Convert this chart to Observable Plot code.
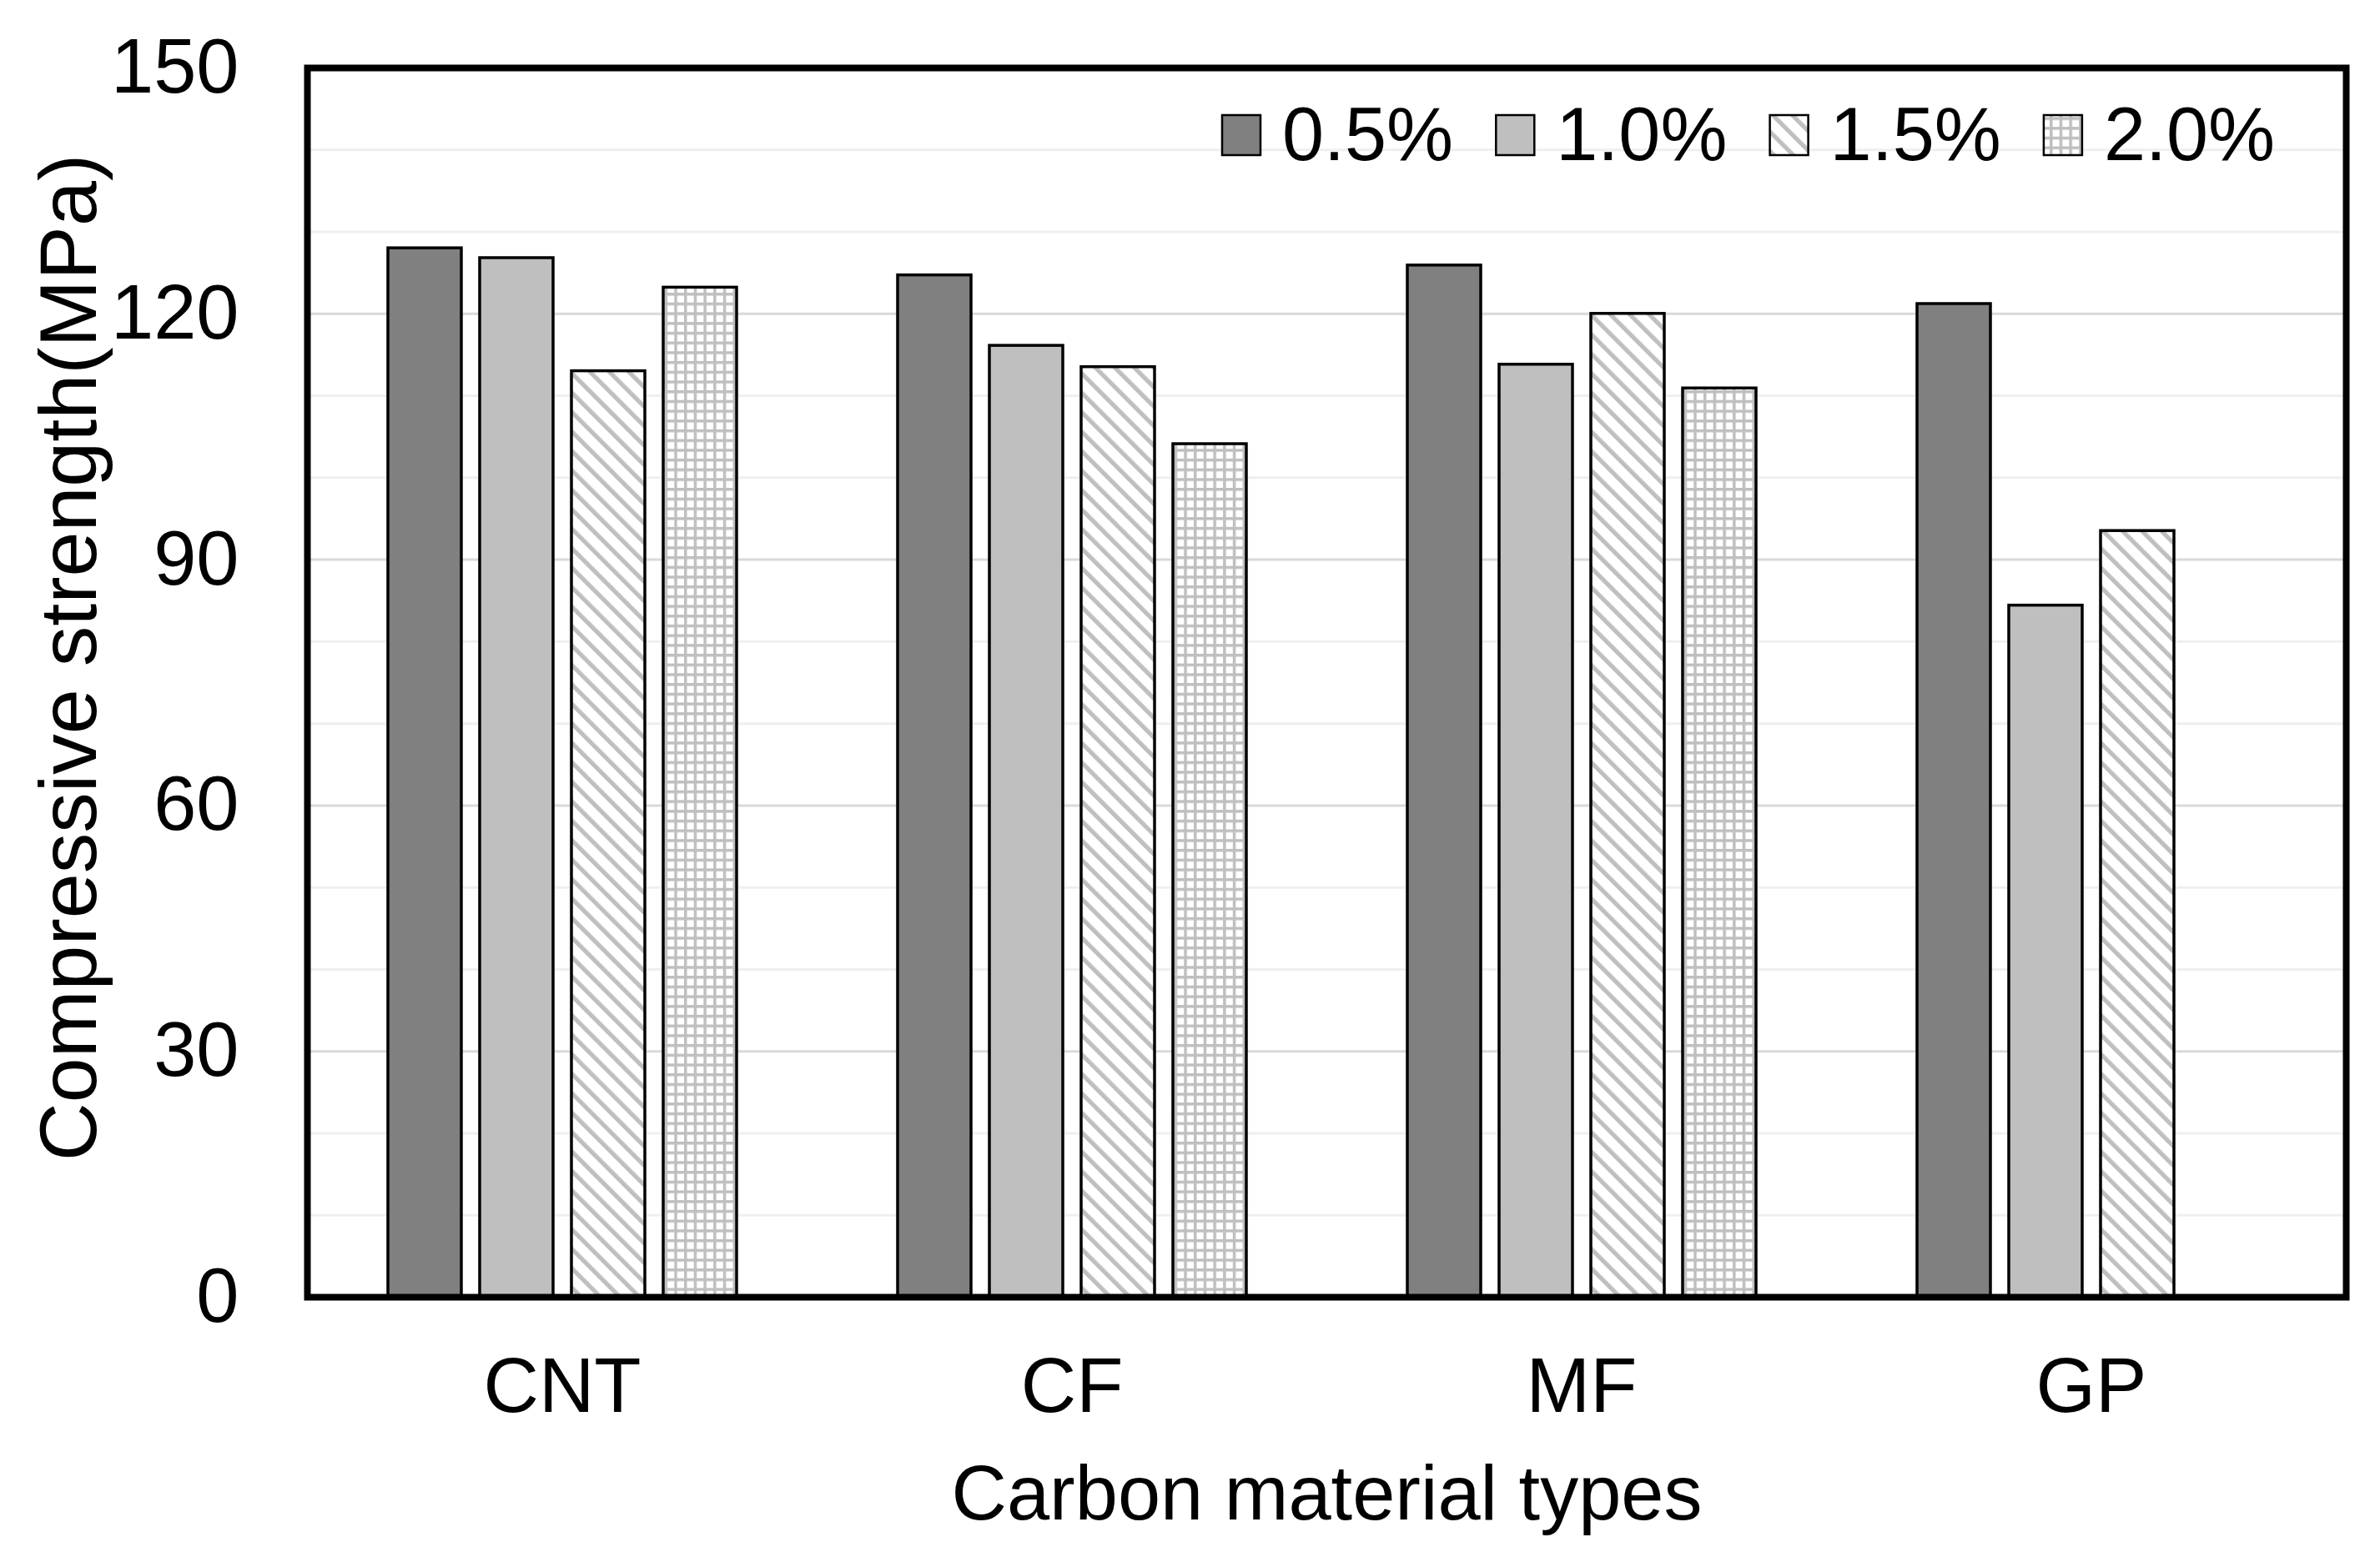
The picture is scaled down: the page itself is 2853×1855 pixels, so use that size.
<!DOCTYPE html>
<html><head><meta charset="utf-8">
<script src="https://cdn.jsdelivr.net/npm/d3@7"></script>
<script src="https://cdn.jsdelivr.net/npm/@observablehq/plot@0.6"></script>
<style>
html,body{margin:0;padding:0;background:#fff;}
#wrap{position:relative;width:2853px;height:1855px;font-family:"Liberation Sans",Arial,sans-serif;}
</style></head><body>
<svg width="0" height="0" style="position:absolute">
<defs>
<pattern id="hatch" patternUnits="userSpaceOnUse" width="16.5" height="16.5" patternTransform="rotate(-45)">
<rect width="16.5" height="16.5" fill="#fff"/>
<rect x="0" y="0" width="5.2" height="16.5" fill="#bfbfbf"/>
</pattern>
<pattern id="grid" patternUnits="userSpaceOnUse" width="11.7" height="11.7">
<rect width="11.7" height="11.7" fill="#fff"/>
<rect x="0" y="0" width="3.5" height="11.7" fill="#bfbfbf"/>
<rect x="0" y="0" width="11.7" height="3.5" fill="#bfbfbf"/>
</pattern>
</defs></svg>
<div id="wrap"></div>
<script>
const categories = ["CNT", "CF", "MF", "GP"];
const series = ["0.5%", "1.0%", "1.5%", "2.0%"];
const strength05 = [128.0, 124.7, 125.9, 121.2];
const strength10 = [126.8, 116.1, 113.8, 84.4];
const strength15 = [113.0, 113.5, 120.0, 93.5];
const strength20 = [123.2, 104.1, 110.9, null];
const yTicks = [0, 30, 60, 90, 120, 150];
const minorGrid = [10, 20, 40, 50, 70, 80, 100, 110, 130, 140];
const majorGrid = [30, 60, 90, 120];
const fills = ["#808080", "#bfbfbf", "url(#hatch)", "url(#grid)"];

const allSeries = [strength05, strength10, strength15, strength20];
const rows = [];
series.forEach((s, i) => categories.forEach((c, j) => {
  const v = allSeries[i][j];
  if (v != null) rows.push({category: c, series: s, value: v});
}));

const font = '"Liberation Sans", Arial, sans-serif';
const chart = Plot.plot({
  width: 2853, height: 1855,
  marginLeft: 367, marginRight: 41, marginTop: 81, marginBottom: 300,
  style: {fontFamily: font, fontSize: "92px", background: "#fff", color: "#000", overflow: "visible"},
  fx: {domain: categories, padding: 0},
  x: {domain: series, paddingInner: 0.204, paddingOuter: 0.867, axis: null},
  y: {domain: [0, 150], axis: null},
  color: {domain: series, range: fills},
  marks: [
    Plot.gridY(minorGrid, {stroke: "#efefef", strokeWidth: 3, strokeOpacity: 1}),
    Plot.gridY(majorGrid, {stroke: "#d9d9d9", strokeWidth: 3, strokeOpacity: 1}),
    Plot.barY(rows, {fx: "category", x: "series", y: "value", fill: "series", stroke: "#000", strokeWidth: 3.5}),
    Plot.axisY(yTicks, {anchor: "left", tickSize: 0, tickPadding: 82, fontSize: 92, label: null}),
    Plot.axisFx({anchor: "bottom", tickSize: 0, tickPadding: 72, fontSize: 92, label: "Carbon material types", labelAnchor: "center", labelOffset: 266}),
    Plot.text(["Compressive strength(MPa)"], {facet: "super", frameAnchor: "left", textAnchor: "middle", rotate: -90, dx: -322, dy: -30, lineAnchor: "top", fontSize: 97}),
    Plot.frame({facet: "super", stroke: "#000", strokeWidth: 8})
  ]
});
document.getElementById("wrap").appendChild(chart);

// legend overlay (inside plot area, top right)
const leg = d3.select("#wrap").append("svg")
  .attr("width", 2853).attr("height", 1855)
  .style("position", "absolute").style("left", "0px").style("top", "0px")
  .style("pointer-events", "none");
series.forEach((s, i) => {
  const x0 = 1465 + i * 328.3;
  leg.append("rect").attr("x", x0).attr("y", 138).attr("width", 46).attr("height", 48)
    .attr("fill", fills[i]).attr("stroke", "#000").attr("stroke-width", 2.5);
  leg.append("text").attr("x", x0 + 72).attr("y", 192)
    .attr("font-family", font).attr("font-size", 90).attr("fill", "#000").text(s);
});
</script>
</body></html>
